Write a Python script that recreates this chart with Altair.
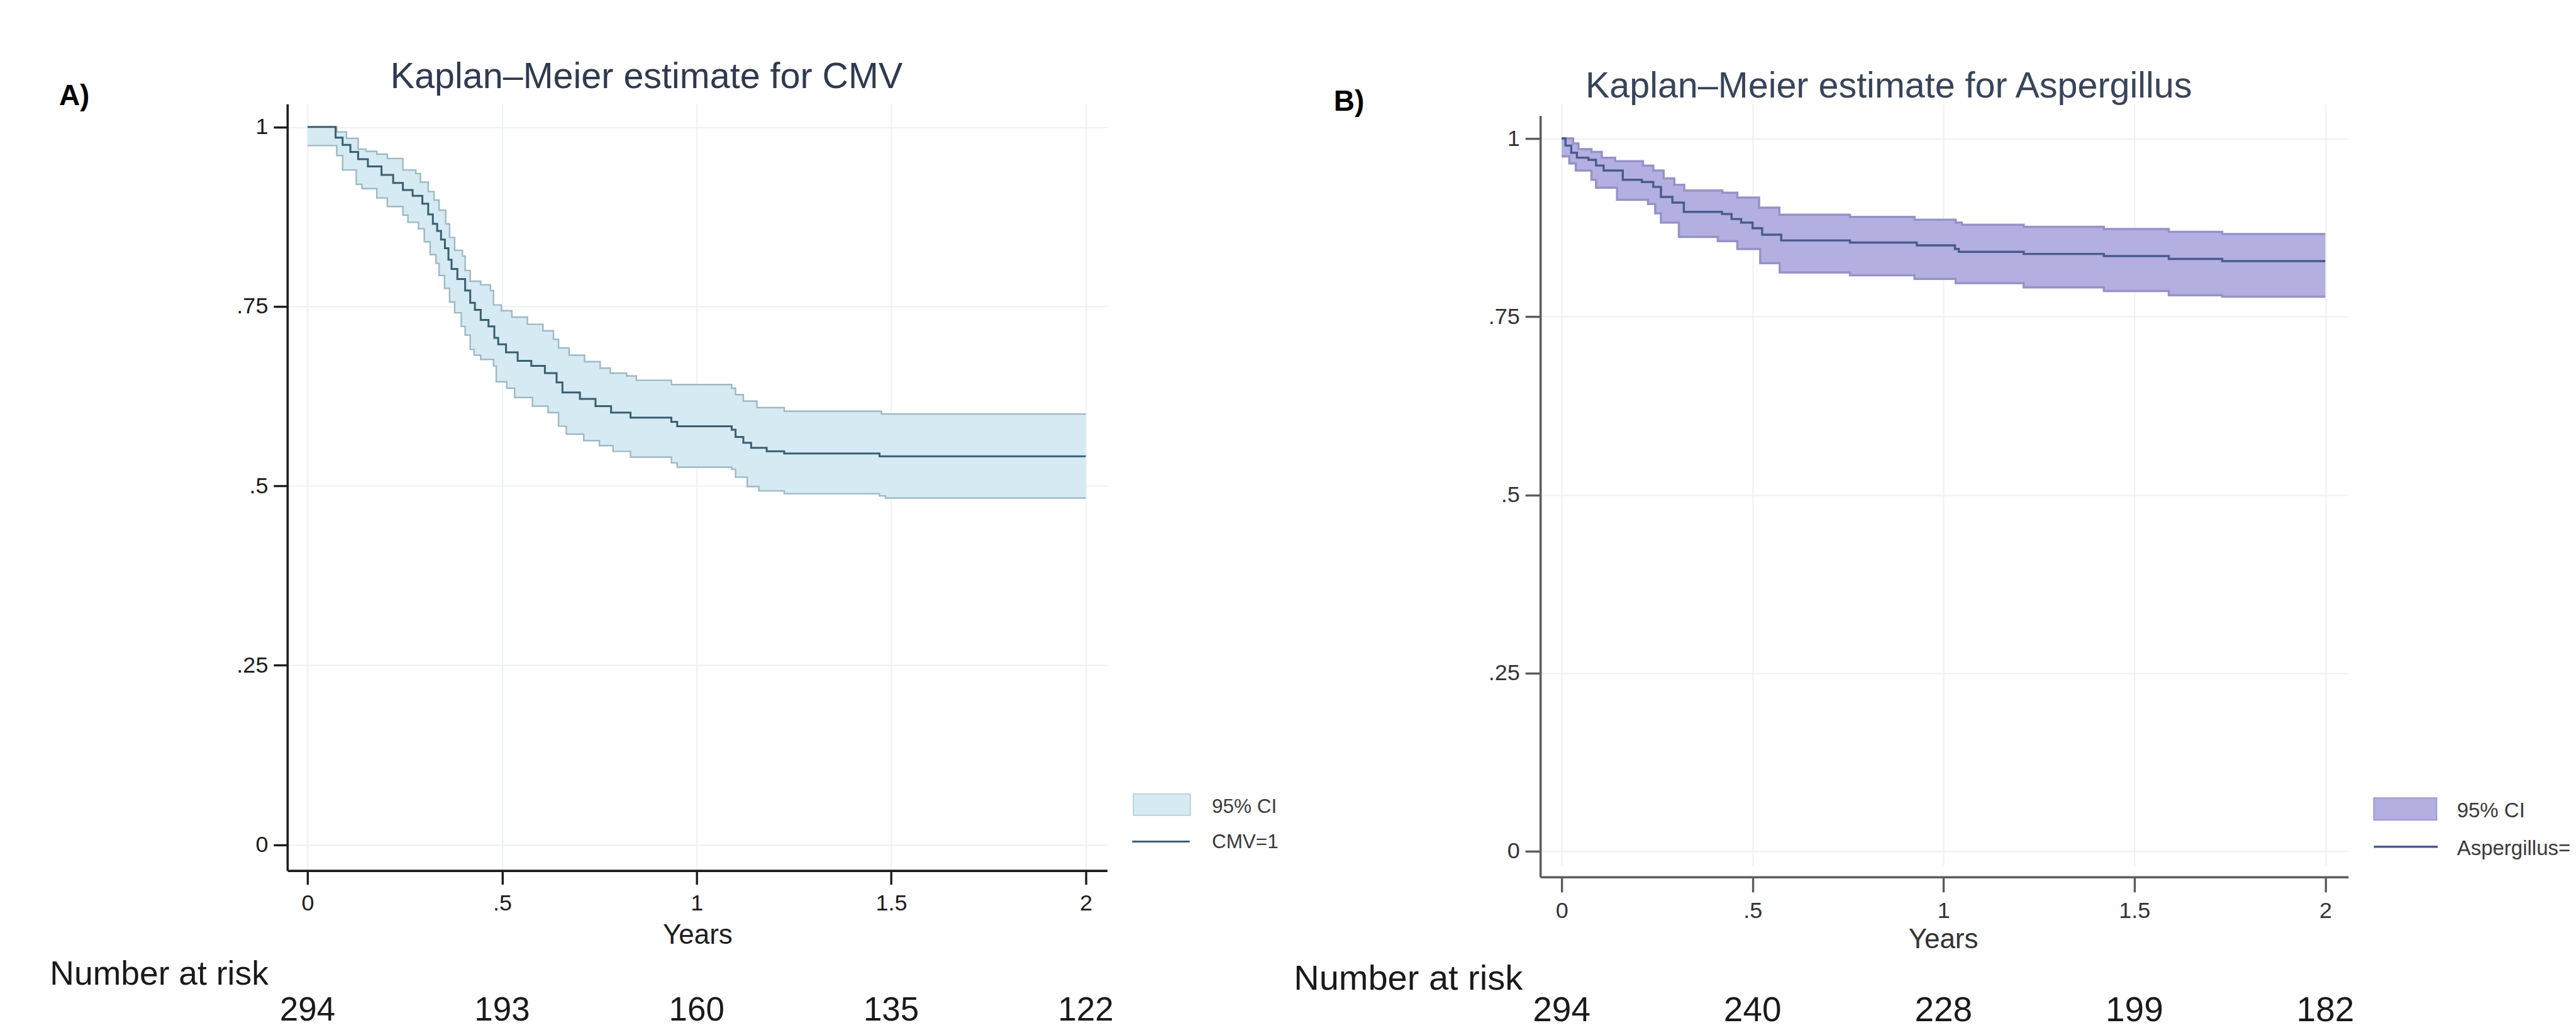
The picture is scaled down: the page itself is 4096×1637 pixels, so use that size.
import altair as alt
import pandas as pd

S = 0.924  # reference px -> output px
SANS = "Liberation Sans"

# ---------------- data ----------------
x_ticks = [0, 0.5, 1, 1.5, 2]
y_ticks = [0, 0.25, 0.5, 0.75, 1]
risk_years = [0, 0.5, 1, 1.5, 2]

cmv_risk = [294, 193, 160, 135, 122]
asp_risk = [294, 240, 228, 199, 182]

# Panel A: CMV (Kaplan-Meier step estimate and 95% CI)
cmv_time = [0, 0.072, 0.09, 0.11, 0.13, 0.155, 0.19, 0.22, 0.245, 0.27, 0.295, 0.31, 0.322,
            0.333, 0.343, 0.353, 0.362, 0.37, 0.385, 0.405, 0.418, 0.43, 0.445, 0.465, 0.48,
            0.49, 0.51, 0.54, 0.575, 0.61, 0.64, 0.655, 0.70, 0.74, 0.78, 0.83, 0.935, 0.95,
            1.09, 1.10, 1.12, 1.14, 1.18, 1.225, 1.47]
cmv_surv = [1.0, 0.985, 0.975, 0.965, 0.955, 0.945, 0.933, 0.922, 0.912, 0.904, 0.893, 0.878,
            0.865, 0.855, 0.843, 0.831, 0.815, 0.802, 0.788, 0.772, 0.755, 0.745, 0.731, 0.722,
            0.706, 0.697, 0.686, 0.674, 0.667, 0.657, 0.644, 0.630, 0.621, 0.611, 0.602, 0.595,
            0.589, 0.583, 0.578, 0.568, 0.560, 0.553, 0.548, 0.545, 0.541]
cmv_up_time = [0, 0.075, 0.10, 0.13, 0.15, 0.178, 0.205, 0.245, 0.278, 0.29, 0.31, 0.325, 0.338,
               0.355, 0.365, 0.378, 0.398, 0.405, 0.418, 0.445, 0.47, 0.478, 0.498, 0.525, 0.565,
               0.605, 0.632, 0.645, 0.672, 0.712, 0.752, 0.778, 0.82, 0.845, 0.935, 1.09, 1.10,
               1.12, 1.155, 1.225, 1.475]
cmv_up = [1.0, 0.993, 0.984, 0.969, 0.966, 0.962, 0.956, 0.94, 0.935, 0.923, 0.91, 0.898, 0.884,
          0.865, 0.846, 0.828, 0.82, 0.80, 0.785, 0.78, 0.772, 0.752, 0.744, 0.735, 0.725, 0.716,
          0.704, 0.692, 0.682, 0.673, 0.664, 0.657, 0.653, 0.647, 0.641, 0.636, 0.627, 0.618,
          0.609, 0.604, 0.600]
cmv_lo_time = [0, 0.075, 0.09, 0.125, 0.14, 0.178, 0.205, 0.245, 0.258, 0.285, 0.30, 0.315, 0.33,
               0.338, 0.352, 0.365, 0.378, 0.395, 0.405, 0.418, 0.428, 0.445, 0.478, 0.485, 0.512,
               0.532, 0.578, 0.618, 0.645, 0.665, 0.71, 0.75, 0.785, 0.83, 0.935, 0.95, 1.09,
               1.10, 1.13, 1.16, 1.225, 1.47, 1.485]
cmv_lo = [0.974, 0.96, 0.94, 0.92, 0.914, 0.901, 0.889, 0.877, 0.867, 0.858, 0.84, 0.822, 0.81,
          0.793, 0.775, 0.756, 0.741, 0.722, 0.71, 0.69, 0.682, 0.676, 0.667, 0.645, 0.636, 0.623,
          0.611, 0.602, 0.583, 0.572, 0.563, 0.556, 0.548, 0.54, 0.532, 0.526, 0.523, 0.512,
          0.499, 0.493, 0.489, 0.486, 0.483]

# Panel B: Aspergillus
asp_time = [0, 0.01, 0.025, 0.04, 0.07, 0.09, 0.11, 0.16, 0.21, 0.24, 0.26, 0.29, 0.32, 0.42,
            0.445, 0.47, 0.50, 0.525, 0.575, 0.755, 0.93, 1.03, 1.04, 1.21, 1.42, 1.59, 1.73]
asp_surv = [1.0, 0.99, 0.98, 0.973, 0.97, 0.962, 0.955, 0.942, 0.939, 0.932, 0.918, 0.91, 0.897,
            0.894, 0.887, 0.882, 0.874, 0.865, 0.857, 0.854, 0.850, 0.845, 0.841, 0.838, 0.835,
            0.831, 0.828]
asp_up_time = [0, 0.03, 0.044, 0.078, 0.105, 0.14, 0.213, 0.24, 0.267, 0.295, 0.321, 0.421, 0.46,
               0.517, 0.57, 0.755, 0.924, 1.032, 1.048, 1.21, 1.42, 1.59, 1.73]
asp_up = [1.0, 0.993, 0.985, 0.981, 0.973, 0.968, 0.962, 0.955, 0.944, 0.935, 0.927, 0.924, 0.917,
          0.903, 0.893, 0.89, 0.886, 0.882, 0.879, 0.876, 0.873, 0.869, 0.866]
asp_lo_time = [0, 0.02, 0.037, 0.078, 0.09, 0.145, 0.226, 0.245, 0.26, 0.307, 0.409, 0.46, 0.52,
               0.571, 0.755, 0.924, 1.032, 1.21, 1.42, 1.59, 1.73]
asp_lo = [0.975, 0.965, 0.955, 0.942, 0.931, 0.914, 0.908, 0.895, 0.882, 0.862, 0.856, 0.845,
          0.825, 0.812, 0.808, 0.803, 0.797, 0.791, 0.786, 0.780, 0.778]

END = 2.0
Y_DOMAIN = [-0.036, 1.032]


def step_frame(times, vals):
    return pd.DataFrame({"t": list(times) + [END], "v": list(vals) + [vals[-1]]})


def value_at(times, vals, t):
    out = vals[0]
    for ti, vi in zip(times, vals):
        if ti <= t + 1e-12:
            out = vi
    return out


def band_frame(ut, uv, lt, lv):
    ts = sorted(set(ut) | set(lt) | {END})
    return pd.DataFrame({
        "t": ts,
        "upper": [value_at(ut, uv, t) for t in ts],
        "lower": [value_at(lt, lv, t) for t in ts],
    })


ONE = pd.DataFrame({"k": [0]})
ROW_TOP = 178.0  # reference px of the top of panel A's plot area

TICK_EXPR = ("datum.value > 0 && datum.value < 1 ? slice(toString(datum.value), 1) "
             ": toString(datum.value)")


def make_panel(p):
    left_w = p["left"] * S
    top_w = ROW_TOP * S
    width = (p["right"] - p["left"]) * S
    view_h = (p["bottom"] - ROW_TOP) * S
    y_range = [view_h, (p["top"] - ROW_TOP) * S]

    def lx(fx):
        return fx * S - left_w

    def ly(fy, fs=0.0):  # fy: reference cap-centre; convert for baseline "middle"
        return fy * S - top_w + 0.058 * fs

    axcol = p["axis_color"]
    common_axis = dict(
        grid=True, gridColor="#edf0f3", gridWidth=2,
        domainColor=axcol, domainWidth=3.6, tickColor=axcol, tickWidth=3.4,
        tickSize=p["tick_size"], labelFont=SANS, labelFontSize=p["tick_fs"],
        labelColor=p["label_color"], labelExpr=TICK_EXPR, title=None,
    )
    xaxis = alt.Axis(values=x_ticks, labelPadding=13, **common_axis)
    yaxis = alt.Axis(values=y_ticks, labelPadding=9, labelAngle=0, **common_axis)
    xs = alt.Scale(domain=p["xdom"], nice=False, zero=False)
    ys = alt.Scale(domain=Y_DOMAIN, nice=False, zero=False, range=y_range)

    band = alt.Chart(band_frame(p["ut"], p["uv"], p["lt"], p["lv"])).mark_area(
        interpolate="step-after", color=p["fill"], opacity=1
    ).encode(
        x=alt.X("t:Q", scale=xs, axis=xaxis, title=None),
        y=alt.Y("lower:Q", scale=ys, axis=yaxis, title=None),
        y2="upper:Q",
    )

    def step_line(times, vals, color, sw):
        return alt.Chart(step_frame(times, vals)).mark_line(
            interpolate="step-after", color=color, strokeWidth=sw
        ).encode(
            x=alt.X("t:Q", scale=xs, axis=xaxis, title=None),
            y=alt.Y("v:Q", scale=ys, axis=yaxis, title=None),
        )

    up_line = step_line(p["ut"], p["uv"], p["outline"], p["outline_w"])
    lo_line = step_line(p["lt"], p["lv"], p["outline"], p["outline_w"])
    km_line = step_line(p["st"], p["sv"], p["line"], p["line_w"])

    risk = alt.Chart(pd.DataFrame({"year": risk_years, "n": p["risk"]})).mark_text(
        font=SANS, fontSize=p["num_fs"], color="#1a1a1a", baseline="middle", align="center"
    ).encode(
        x=alt.X("year:Q", scale=xs, axis=xaxis, title=None),
        y=alt.value(ly(p["num_y"], p["num_fs"])),
        text="n:Q",
    )

    def label(txt, fx, fy, fs, color="#1a1a1a", align="center", bold=False):
        return alt.Chart(ONE).mark_text(
            text=txt, font=SANS, fontSize=fs, color=color, align=align, baseline="middle",
            fontWeight="bold" if bold else "normal",
        ).encode(x=alt.value(lx(fx)), y=alt.value(ly(fy, fs)))

    title = label(p["title"], p["title_x"], p["title_y"], 57.5, color=p["title_color"])
    letter = label(p["letter"], p["letter_x"], p["letter_y"], 46, bold=True, color="#000000")
    years = label("Years", p["years_x"], p["years_y"], p["years_fs"], color=p["label_color"])
    nrisk = label("Number at risk", p["nrisk_x"], p["nrisk_y"], p["nrisk_fs"], align="left")

    lg = p["legend"]
    swatch = alt.Chart(ONE).mark_rect(
        fill=p["fill"], stroke=p["swatch_stroke"], strokeWidth=2
    ).encode(
        x=alt.value(lx(lg["sx0"])), x2=alt.value(lx(lg["sx1"])),
        y=alt.value(ly(lg["sy0"])), y2=alt.value(ly(lg["sy1"])),
    )
    lrule = alt.Chart(ONE).mark_rule(color=p["line"], strokeWidth=p["line_w"]).encode(
        x=alt.value(lx(lg["lx0"])), x2=alt.value(lx(lg["lx1"])), y=alt.value(ly(lg["ly"])),
    )
    t1 = label("95% CI", lg["tx"], lg["t1y"], lg["fs"], color="#3a3a3a", align="left")
    t2 = label(lg["name"], lg["tx"], lg["t2y"], lg["fs"], color="#3a3a3a", align="left")

    layers = [band, up_line, lo_line, km_line, risk, title, letter, years, nrisk,
              swatch, lrule, t1, t2]
    if p.get("anchor"):
        # white 1px rect fixing the page's top-left corner
        layers.append(alt.Chart(ONE).mark_rect(color="white").encode(
            x=alt.value(8 - left_w), x2=alt.value(9 - left_w),
            y=alt.value(8 - top_w), y2=alt.value(9 - top_w),
        ))
    return alt.layer(*layers).properties(width=width, height=view_h), left_w, width


panel_a = dict(
    left=493.7, right=1904.8, top=178.0, bottom=1497.0, xdom=[-0.052, 2.055],
    st=cmv_time, sv=cmv_surv, ut=cmv_up_time, uv=cmv_up, lt=cmv_lo_time, lv=cmv_lo,
    fill="#d5eaf2", outline="#9fb9c3", outline_w=2.4, line="#3a5f72", line_w=3.0,
    swatch_stroke="#b7d3dc",
    axis_color="#1c1c1c", label_color="#1c1c1c", tick_size=22, tick_fs=36,
    risk=cmv_risk, num_y=1734, num_fs=53,
    title="Kaplan\u2013Meier estimate for CMV", title_x=1112, title_y=129,
    title_color="#2f3a4f",
    letter="A)", letter_x=127, letter_y=162,
    years_x=1200, years_y=1606, years_fs=44,
    nrisk_x=85, nrisk_y=1673, nrisk_fs=53.5,
    legend=dict(sx0=1950, sx1=2048, sy0=1365, sy1=1402, lx0=1948, lx1=2047, ly=1447,
                tx=2085, t1y=1386, t2y=1447, fs=31.5, name="CMV=1"),
    anchor=True,
)

panel_b = dict(
    left=2650.2, right=4040.9, top=198.2, bottom=1508.0, xdom=[-0.056, 2.06],
    st=asp_time, sv=asp_surv, ut=asp_up_time, uv=asp_up, lt=asp_lo_time, lv=asp_lo,
    fill="#b3afe1", outline="#9692c8", outline_w=3.5, line="#4a5b8d", line_w=3.4,
    swatch_stroke="#9c98d0",
    axis_color="#5c5c5c", label_color="#333333", tick_size=24, tick_fs=36,
    risk=asp_risk, num_y=1734, num_fs=55,
    title="Kaplan\u2013Meier estimate for Aspergillus", title_x=3250, title_y=145,
    title_color="#38445a",
    letter="B)", letter_x=2321, letter_y=172,
    years_x=3344, years_y=1614, years_fs=44,
    nrisk_x=2226, nrisk_y=1680, nrisk_fs=56,
    legend=dict(sx0=4085, sx1=4193, sy0=1372, sy1=1410, lx0=4085, lx1=4195, ly=1456,
                tx=4228, t1y=1392, t2y=1457, fs=33, name="Aspergillus="),
)

chart_a, a_left, a_width = make_panel(panel_a)
chart_b, b_left, b_width = make_panel(panel_b)
spacing = b_left - (a_left + a_width)

chart = alt.hconcat(
    chart_a, chart_b, spacing=spacing, bounds="flush", padding=0, background="white"
).configure_view(stroke=None)

chart.save("out.html", embed_options={"renderer": "svg", "actions": False})
